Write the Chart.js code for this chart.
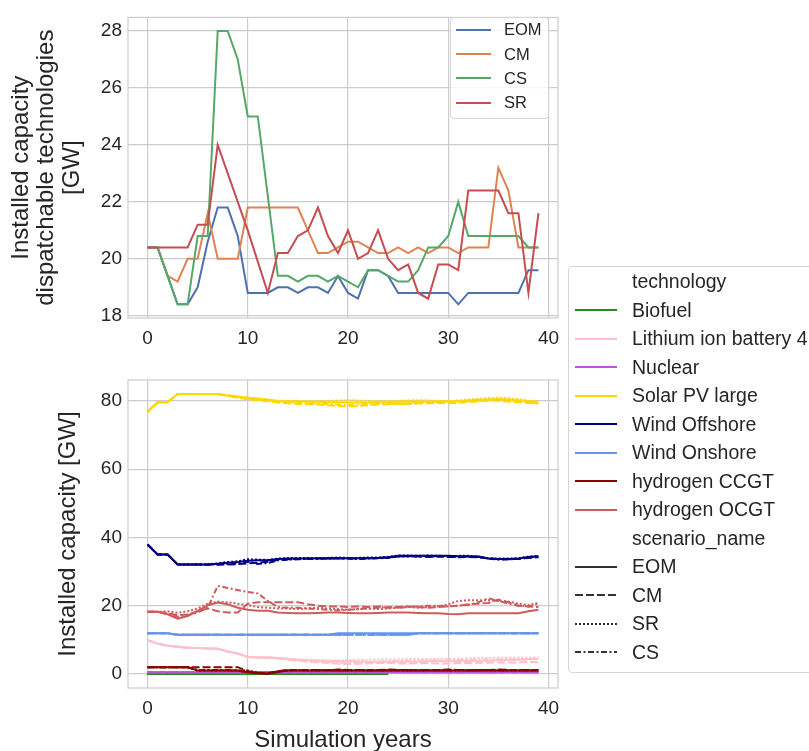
<!DOCTYPE html>
<html>
<head>
<meta charset="utf-8">
<script src="https://cdn.jsdelivr.net/npm/chart.js@4.4.0/dist/chart.umd.min.js"></script>
<style>
  body { margin: 0; width: 809px; height: 751px; position: relative; overflow: hidden; background: #fff;
         font-family: "Liberation Sans", Arial, sans-serif; color: #262626; }
  canvas { position: absolute; left: 0; }
  #dispatch { top: 0; }
  #capacity { top: 360px; }
  .legend { position: absolute; background: rgba(255,255,255,0.8); border: 1px solid #d5d5d5; border-radius: 4px; }
  .legend .row { position: absolute; left: 0; display: flex; align-items: center; white-space: nowrap; }
  .legend svg { display: block; }
</style>
</head>
<body>
<canvas id="dispatch" width="570" height="360"></canvas>
<canvas id="capacity" width="570" height="400"></canvas>
<div id="legend-top" class="legend" style="left:450px;top:17px;width:97px;height:100px"></div>
<div id="legend-bottom" class="legend" style="left:568px;top:266px;width:260px;height:405px"></div>
<script>
// simulation years
const years = [0,1,2,3,4,5,6,7,8,9,10,11,12,13,14,15,16,17,18,19,20,21,22,23,24,25,26,27,28,29,30,31,32,33,34,35,36,37,38,39];
const xTicks = [0, 10, 20, 30, 40];
const dispatchTicks = [18, 20, 22, 24, 26, 28];
const capacityTicks = [0, 20, 40, 60, 80];

// dispatchable capacity per scenario [GW]
const scenarios = ['EOM', 'CM', 'SR', 'CS'];
const dispEOM = [20.4,20.4,19.4,18.4,18.4,19.0,20.6,21.8,21.8,20.8,18.8,18.8,18.8,19.0,19.0,18.8,19.0,19.0,18.8,19.4,18.8,18.6,19.6,19.6,19.4,18.8,18.8,18.8,18.8,18.8,18.8,18.4,18.8,18.8,18.8,18.8,18.8,18.8,19.6,19.6];
const dispCM  = [20.4,20.4,19.4,19.2,20.0,20.0,21.6,20.0,20.0,20.0,21.8,21.8,21.8,21.8,21.8,21.8,21.0,20.2,20.2,20.4,20.6,20.6,20.4,20.2,20.2,20.4,20.2,20.4,20.2,20.4,20.4,20.2,20.4,20.4,20.4,23.2,22.4,20.4,20.4,20.4];
const dispCS  = [20.4,20.4,19.4,18.4,18.4,20.8,20.8,28.0,28.0,27.0,25.0,25.0,22.2,19.4,19.4,19.2,19.4,19.4,19.2,19.4,19.2,19.0,19.6,19.6,19.4,19.2,19.2,19.6,20.4,20.4,20.8,22.0,20.8,20.8,20.8,20.8,20.8,20.8,20.4,20.4];
const dispSR  = [20.4,20.4,20.4,20.4,20.4,21.2,21.2,24.0,23.0,22.0,21.0,19.9,18.8,20.2,20.2,20.8,21.0,21.8,20.8,20.2,21.0,20.0,20.2,21.0,20.0,19.6,19.8,18.8,18.6,19.8,19.8,19.6,22.4,22.4,22.4,22.4,21.6,21.6,18.8,21.6];
const dispatchOrder = ['EOM', 'CM', 'CS', 'SR'];
const dispatchSeries = { EOM: dispEOM, CM: dispCM, CS: dispCS, SR: dispSR };
const dispatchColors = { EOM: '#4c72b0', CM: '#dd8452', CS: '#55a868', SR: '#c44e52' };

// installed capacity per technology and scenario [GW]
const technologies = ['Biofuel', 'Lithium ion battery 4', 'Nuclear', 'Solar PV large', 'Wind Offshore', 'Wind Onshore', 'hydrogen CCGT', 'hydrogen OCGT'];
const techColors = ['#228b22', '#ffc0cb', '#ba55d3', '#ffd700', '#000080', '#6495ed', '#8b0000', '#cd5c5c'];
const scenarioDash = { EOM: [], CM: [8, 3], SR: [2, 2], CS: [6, 2.5, 2, 2.5] };

const biofuel = [0,0,0,0,0,0,0,0,0,0,0,0,0,0,0,0,0,0,0,0,0,0,0,0,0,null,null,null,null,null,null,null,null,null,null,null,null,null,null,null];
const nuclear = [0.5,0.5,0.5,0.5,0.5,0.5,0.5,0.5,0.5,0.5,0.5,0.5,0.5,0.5,0.5,0.5,0.5,0.5,0.5,0.5,0.5,0.5,0.5,0.5,0.5,0.5,0.5,0.5,0.5,0.5,0.5,0.5,0.5,0.5,0.5,0.5,0.5,0.5,0.5,0.5];

const liEOM = [9.9,8.9,8.3,8.0,7.7,7.6,7.5,7.4,6.6,6.0,5.0,4.8,4.8,4.7,4.4,4.2,4.0,3.9,3.8,3.8,3.7,3.7,3.6,3.6,3.6,3.6,3.6,3.6,3.7,3.7,3.7,3.8,3.8,3.9,3.9,4.0,4.1,4.2,4.3,4.4];
const liCM  = [9.9,8.9,8.3,8.0,7.7,7.6,7.5,7.4,6.6,6.0,5.0,4.8,4.8,4.6,4.2,3.9,3.6,3.4,3.2,3.0,2.9,3.0,3.1,3.2,3.2,3.1,3.1,3.2,3.2,3.1,3.1,3.2,3.2,3.3,3.3,3.4,3.4,3.4,3.5,3.5];
const liSR  = [9.9,8.9,8.3,8.0,7.7,7.6,7.5,7.4,6.6,6.0,5.0,4.8,4.8,4.7,4.5,4.3,4.2,4.1,4.0,4.0,4.1,4.2,4.2,4.3,4.3,4.3,4.4,4.4,4.4,4.4,4.5,4.5,4.6,4.7,4.7,4.8,4.8,4.8,4.8,4.9];
const liCS  = [9.9,8.9,8.3,8.0,7.7,7.6,7.5,7.4,6.6,6.0,5.0,4.8,4.8,4.6,4.3,4.1,3.9,3.7,3.5,3.3,3.3,3.4,3.5,3.6,3.7,3.8,3.8,3.9,3.9,4.0,4.0,4.1,4.1,4.2,4.2,4.3,4.3,4.3,4.4,4.4];

const solarEOM = [76.8,79.6,79.6,82.0,82.0,82.0,82.0,82.0,81.6,81.2,80.8,80.6,80.3,79.9,79.8,79.8,79.7,79.7,79.6,79.6,79.5,79.5,79.5,79.6,79.6,79.7,79.8,79.7,79.7,79.8,79.8,79.9,80.1,80.3,80.4,80.5,80.4,80.2,79.9,79.6];
const solarCM  = [76.8,79.6,79.6,82.0,82.0,82.0,82.0,82.0,81.5,81.0,80.5,80.2,79.9,79.5,79.3,79.1,79.0,78.9,78.7,78.5,78.4,78.5,78.7,78.9,79.0,79.2,79.1,79.2,79.3,79.4,79.3,79.4,79.6,79.9,80.1,80.0,79.8,79.6,79.4,79.2];
const solarSR  = [76.8,79.6,79.6,82.0,82.0,82.0,82.0,82.0,81.7,81.3,81.0,80.7,80.4,80.1,80.0,80.0,79.9,79.9,80.0,80.1,80.2,80.1,80.0,79.9,79.9,80.0,80.1,80.2,80.1,80.0,79.9,80.1,80.4,80.6,80.8,80.9,80.8,80.5,80.1,79.8];
const solarCS  = [76.8,79.6,79.6,82.0,82.0,82.0,82.0,82.0,81.4,80.9,80.6,80.4,80.1,79.8,79.6,79.4,79.3,79.2,79.0,78.9,78.8,78.9,79.1,79.3,79.2,79.0,79.2,79.4,79.5,79.6,79.7,79.8,79.9,80.0,80.2,80.3,80.2,79.9,79.6,79.3];

const offEOM = [37.9,35.0,35.0,32.1,32.1,32.1,32.1,32.3,32.6,32.8,33.2,33.3,33.3,33.7,33.8,33.8,33.8,33.9,33.9,33.9,33.9,33.9,33.9,34.0,34.2,34.6,34.6,34.6,34.6,34.6,34.6,34.5,34.5,34.4,33.8,33.7,33.7,33.8,34.3,34.5];
const offCM  = [37.9,35.0,35.0,32.1,32.1,32.1,32.1,32.0,32.1,32.2,32.4,32.6,32.9,33.4,33.6,33.7,33.8,33.8,33.8,33.9,33.8,33.8,33.9,34.0,34.1,34.4,34.5,34.4,34.3,34.4,34.3,34.2,34.3,34.2,33.9,33.6,33.6,33.7,34.0,34.2];
const offSR  = [37.9,35.0,35.0,32.1,32.1,32.1,32.1,32.4,32.8,33.0,33.6,33.5,33.4,33.8,33.9,34.0,34.0,34.0,34.0,34.1,34.0,34.0,34.1,34.1,34.3,34.7,34.7,34.6,34.7,34.6,34.5,34.6,34.6,34.4,33.9,33.8,33.8,33.9,34.4,34.6];
const offCS  = [37.9,35.0,35.0,32.1,32.1,32.1,32.0,32.2,32.3,32.4,32.9,32.2,32.5,33.3,33.5,33.6,33.7,33.7,33.8,33.8,33.8,33.7,33.8,33.9,34.0,34.5,34.4,34.5,34.5,34.4,34.5,34.3,34.4,34.3,33.8,33.5,33.6,33.7,34.1,34.4];

const onEOM   = [11.9,11.9,11.9,11.5,11.5,11.5,11.5,11.5,11.5,11.5,11.5,11.5,11.5,11.5,11.5,11.5,11.5,11.5,11.5,11.9,11.9,11.9,11.9,11.9,11.9,11.9,11.9,11.9,11.9,11.9,11.9,11.9,11.9,11.9,11.9,11.9,11.9,11.9,11.9,11.9];
const onOther = [11.9,11.9,11.9,11.5,11.5,11.5,11.5,11.5,11.5,11.5,11.5,11.5,11.5,11.5,11.5,11.5,11.5,11.5,11.5,11.5,11.5,11.5,11.5,11.5,11.5,11.5,11.5,11.9,11.9,11.9,11.9,11.9,11.9,11.9,11.9,11.9,11.9,11.9,11.9,11.9];

const ccEOM = [2.0,2.0,2.0,2.0,2.0,1.0,1.0,1.0,1.0,1.0,0.5,0.2,0.1,0.6,1.0,1.0,1.0,1.0,1.0,1.0,1.0,1.0,1.0,1.0,1.0,1.0,1.0,1.0,1.0,1.0,1.0,1.0,1.0,1.0,1.0,1.0,1.0,1.0,1.0,1.0];
const ccCM  = [2.0,2.0,2.0,2.0,2.0,2.0,2.0,2.0,2.0,2.0,0.8,0.4,0.2,0.8,1.2,1.1,1.2,1.2,1.1,1.3,1.2,1.2,1.1,1.2,1.3,1.2,1.2,1.1,1.2,1.2,1.3,1.2,1.1,1.2,1.2,1.3,1.2,1.2,1.1,1.2];
const ccSR  = [2.0,2.0,2.0,2.0,2.0,1.0,1.0,1.0,1.0,1.0,1.0,0.4,0.2,0.8,1.0,1.1,1.0,1.0,1.1,1.0,1.0,1.1,1.0,1.0,1.0,1.1,1.0,1.0,1.1,1.0,1.0,1.0,1.1,1.0,1.0,1.1,1.0,1.0,1.0,1.1];
const ccCS  = [2.0,2.0,2.0,2.0,2.0,1.2,1.2,1.2,1.2,1.0,0.5,0.3,0.1,0.8,1.1,1.2,1.1,1.1,1.2,1.1,1.1,1.2,1.1,1.1,1.2,1.1,1.1,1.2,1.1,1.1,1.1,1.2,1.1,1.1,1.2,1.1,1.1,1.1,1.2,1.1];

const ocEOM = [18.2,18.2,17.5,16.2,17.0,18.5,20.1,20.9,20.4,19.4,18.8,18.5,18.5,18.0,17.9,17.8,17.8,17.9,18.0,18.0,17.9,17.8,17.8,17.9,18.0,18.0,18.0,17.9,17.8,17.8,17.6,17.5,17.8,17.8,17.8,17.8,17.8,17.8,18.4,18.8];
const ocCM  = [18.2,18.2,17.8,17.2,17.4,18.4,19.2,18.4,18.0,18.0,20.6,21.0,21.0,21.0,21.0,21.0,20.4,20.0,19.8,19.8,19.6,19.8,19.6,19.8,19.4,19.6,19.8,19.6,19.4,19.6,19.8,20.0,20.4,20.6,20.8,21.8,21.0,20.0,19.8,19.6];
const ocSR  = [18.2,18.2,18.4,17.9,18.4,19.2,20.6,21.2,21.0,20.6,20.2,19.6,19.4,19.2,19.2,19.0,19.2,19.4,19.2,19.0,18.8,19.0,19.2,19.0,19.2,19.4,19.6,19.4,19.6,19.8,20.4,21.4,21.6,21.6,21.6,21.4,21.2,20.6,20.2,20.8];
const ocCS  = [18.2,18.2,17.6,16.8,17.2,18.0,19.4,25.8,25.2,24.6,24.0,23.6,21.4,19.6,19.4,19.4,19.2,19.0,18.8,18.6,18.8,19.0,19.2,19.4,19.6,19.4,19.6,19.8,20.0,20.0,19.8,20.0,20.2,21.0,22.2,21.4,20.6,20.0,19.8,20.6];

// technology -> [EOM, CM, SR, CS]
const capacityTable = [
  [biofuel, biofuel, biofuel, biofuel],
  [liEOM, liCM, liSR, liCS],
  [nuclear, nuclear, nuclear, nuclear],
  [solarEOM, solarCM, solarSR, solarCS],
  [offEOM, offCM, offSR, offCS],
  [onEOM, onOther, onOther, onOther],
  [ccEOM, ccCM, ccSR, ccCS],
  [ocEOM, ocCM, ocSR, ocCS]
];

const TEXT = '#262626';
const GRID = '#cccccc';

// light grey box around the plot area, like the other spines
const frame = {
  id: 'frame',
  beforeDatasetsDraw(chart) {
    const { ctx, chartArea: a } = chart;
    ctx.save();
    ctx.strokeStyle = GRID;
    ctx.lineWidth = 1.2;
    ctx.strokeRect(a.left, a.top, a.right - a.left, a.bottom - a.top);
    ctx.restore();
  }
};

function fixTicks(values) {
  return scale => { scale.ticks = values.map(v => ({ value: v })); };
}

function scalesFor(yMin, yMax, yTicks, yTitle, yTitlePad, xAxisHeight, xTitle) {
  return {
    x: {
      type: 'linear', min: -1.95, max: 40.95,
      afterBuildTicks: fixTicks(xTicks),
      afterFit: s => { s.height = xAxisHeight; },
      grid: { color: GRID, lineWidth: 1.2, drawTicks: false },
      border: { display: false },
      ticks: { color: TEXT, padding: 9, font: { size: 19 } },
      title: xTitle ? { display: true, text: xTitle, color: TEXT, font: { size: 24 }, padding: { top: 0, bottom: 5 } } : { display: false }
    },
    y: {
      min: yMin, max: yMax,
      afterBuildTicks: fixTicks(yTicks),
      afterFit: s => { s.width = 128; },
      grid: { color: GRID, lineWidth: 1.2, drawTicks: false },
      border: { display: false },
      ticks: { color: TEXT, padding: 6, font: { size: 19 } },
      title: { display: true, text: yTitle, color: TEXT, font: { size: 24, lineHeight: 1.05 }, padding: { top: yTitlePad, bottom: 0 } }
    }
  };
}

Chart.defaults.font.family = '"Liberation Sans", Arial, sans-serif';

new Chart(document.getElementById('dispatch'), {
  type: 'line',
  data: {
    labels: years,
    datasets: dispatchOrder.map((name, i) => ({
      label: name,
      data: dispatchSeries[name],
      borderColor: dispatchColors[name],
      borderWidth: 2,
      pointRadius: 0,
      tension: 0,
      order: -i
    }))
  },
  options: {
    responsive: false, animation: false,
    layout: { padding: { left: 0, right: 12, top: 7, bottom: 0 } },
    plugins: { legend: { display: false }, tooltip: { enabled: false } },
    scales: scalesFor(17.92, 28.48, dispatchTicks, ['Installed capacity', 'dispatchable technologies', '[GW]'], 9, 42, null)
  },
  plugins: [frame]
});

const capacitySets = [];
technologies.forEach((tech, t) => {
  scenarios.forEach((sc, s) => {
    capacitySets.push({
      label: tech + ' ' + sc,
      data: capacityTable[t][s],
      borderColor: techColors[t],
      borderDash: scenarioDash[sc],
      borderWidth: 2,
      pointRadius: 0,
      tension: 0,
      order: -(t * scenarios.length + s)
    });
  });
});

new Chart(document.getElementById('capacity'), {
  type: 'line',
  data: { labels: years, datasets: capacitySets },
  options: {
    responsive: false, animation: false,
    layout: { padding: { left: 0, right: 12, top: 20, bottom: 0 } },
    plugins: { legend: { display: false }, tooltip: { enabled: false } },
    scales: scalesFor(-4.1, 86.1, capacityTicks, 'Installed capacity [GW]', 56, 72, 'Simulation years')
  },
  plugins: [frame]
});

// legends
function sample(color, dash, w) {
  const d = dash.length ? ` stroke-dasharray="${dash.join(' ')}"` : '';
  return `<svg width="${w}" height="8"><line x1="0" y1="4" x2="${w}" y2="4" stroke="${color}" stroke-width="2"${d}/></svg>`;
}

function buildLegend(el, rows, opts) {
  el.innerHTML = rows.map((r, i) => {
    const top = opts.first + i * opts.step - opts.size * 0.65;
    const mark = r.color ? sample(r.color, r.dash || [], opts.lineW) : `<svg width="${opts.lineW}" height="8"></svg>`;
    return `<div class="row" style="top:${top}px;height:${opts.size * 1.3}px;font-size:${opts.size}px;padding-left:${opts.lineX}px">` +
      mark + `<span style="margin-left:${opts.gap}px">${r.text}</span></div>`;
  }).join('');
}

buildLegend(document.getElementById('legend-top'),
  dispatchOrder.map(n => ({ text: n, color: dispatchColors[n] })),
  { first: 12, step: 24.2, size: 16.5, lineX: 5, lineW: 35, gap: 13 });

const bottomRows = [{ text: 'technology' }]
  .concat(technologies.map((t, i) => ({ text: t, color: techColors[i] })))
  .concat([{ text: 'scenario_name' }])
  .concat(scenarios.map(s => ({ text: s, color: '#333333', dash: scenarioDash[s] })));
buildLegend(document.getElementById('legend-bottom'), bottomRows,
  { first: 15, step: 28.5, size: 19.5, lineX: 6, lineW: 42, gap: 15 });
</script>
</body>
</html>
